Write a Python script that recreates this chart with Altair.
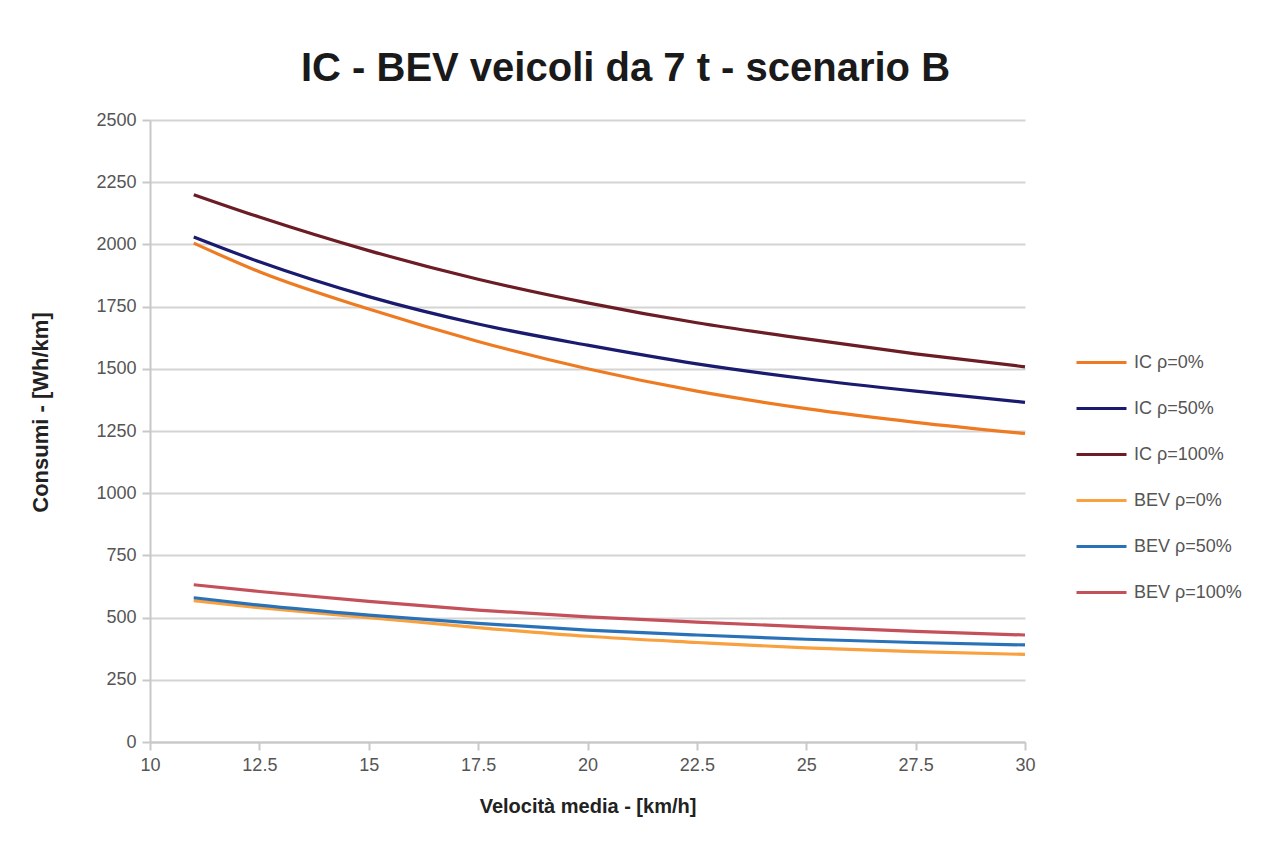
import altair as alt
import pandas as pd

# velocità media [km/h]
speed = [11, 12.5, 15, 17.5, 20, 22.5, 25, 27.5, 30]

ic_0 = [2005, 1890, 1740, 1610, 1500, 1410, 1340, 1285, 1240]
ic_50 = [2030, 1930, 1790, 1680, 1595, 1520, 1460, 1410, 1365]
ic_100 = [2200, 2110, 1975, 1860, 1765, 1685, 1620, 1560, 1508]
bev_0 = [568, 540, 500, 460, 425, 400, 378, 363, 352]
bev_50 = [580, 550, 510, 477, 450, 430, 413, 400, 390]
bev_100 = [632, 605, 565, 530, 503, 482, 463, 445, 430]

x_ticks = [10, 12.5, 15, 17.5, 20, 22.5, 25, 27.5, 30]
y_ticks = [0, 250, 500, 750, 1000, 1250, 1500, 1750, 2000, 2250, 2500]

series_names = ["IC ρ=0%", "IC ρ=50%", "IC ρ=100%", "BEV ρ=0%", "BEV ρ=50%", "BEV ρ=100%"]
series_values = [ic_0, ic_50, ic_100, bev_0, bev_50, bev_100]
series_colors = ["#EE7B22", "#1A1A6E", "#6B1C24", "#F9A03F", "#2A72B8", "#C4505A"]

rows = []
for name, vals in zip(series_names, series_values):
    for order, (v, c) in enumerate(zip(speed, vals)):
        rows.append({"serie": name, "v": v, "c": c, "o": order})
df = pd.DataFrame(rows)

FONT = "Liberation Sans Narrow, Liberation Sans, Arial"

chart = alt.Chart(df).mark_line(strokeWidth=3.2, interpolate="monotone").encode(
    x=alt.X("v:Q", title="Velocità media - [km/h]",
            scale=alt.Scale(domain=[10, 30], nice=False, zero=False),
            axis=alt.Axis(values=x_ticks, format=".1~f", grid=False, labelFlush=False,
                          titleFontSize=20, titlePadding=22)),
    y=alt.Y("c:Q", title="Consumi - [Wh/km]",
            scale=alt.Scale(domain=[0, 2500], nice=False),
            axis=alt.Axis(values=y_ticks, format="d", titleFontSize=22,
                          titleX=-110, titleY=292, titleAngle=270,
                          titleAlign="center", titleBaseline="middle")),
    color=alt.Color("serie:N",
                    scale=alt.Scale(domain=series_names, range=series_colors),
                    legend=alt.Legend(title=None, orient="none", legendX=925, legendY=216,
                                      symbolType="stroke", symbolSize=2500,
                                      symbolStrokeWidth=3, rowPadding=10,
                                      labelOffset=6, labelFontSize=18,
                                      labelColor="#555555", labelFont=FONT, padding=0)),
    order=alt.Order("o:Q"),
).properties(
    width=875,
    height=622,
    background="white",
    title=alt.TitleParams("IC - BEV veicoli da 7 t - scenario B", fontSize=40,
                          font=FONT, fontWeight="bold", color="#1a1a1a",
                          offset=22, dx=38, anchor="middle"),
    padding={"left": 142, "top": 112, "right": 251, "bottom": 100},
    autosize=alt.AutoSizeParams(type="none"),
).configure_view(stroke=None).configure_axis(
    labelFont=FONT, labelFontSize=18, labelColor="#555555",
    titleFont=FONT, titleColor="#222222", titleFontWeight="bold",
    domainColor="#C8C8C8", domainWidth=2, tickColor="#C8C8C8", tickWidth=2, tickSize=8,
    gridColor="#D4D4D4", gridWidth=2, labelPadding=6,
)

chart.save("out.html", embed_options={"renderer": "svg", "actions": False})
